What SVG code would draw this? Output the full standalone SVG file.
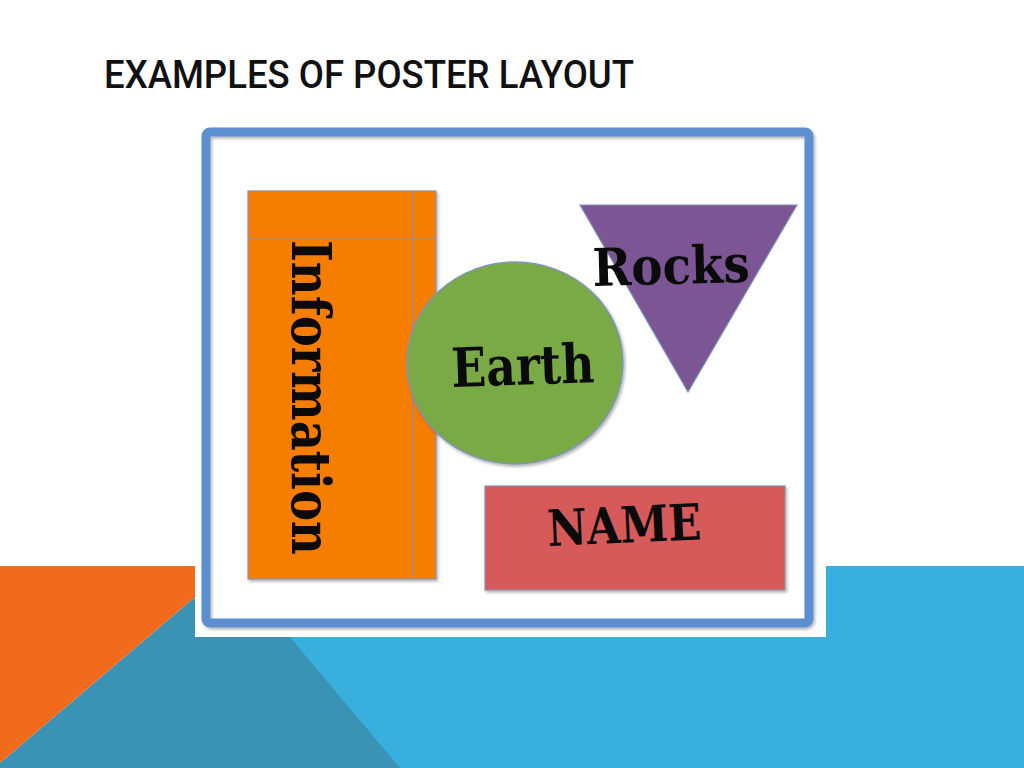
<svg xmlns="http://www.w3.org/2000/svg" width="1024" height="768" viewBox="0 0 1024 768">
  <defs>
    <style>
      .title { font-family: Roboto, "Liberation Sans", Arial, sans-serif; font-weight: 500; font-size: 38px; fill: #111; }
      .lbl { font-family: "DejaVu Serif", "Liberation Serif", serif; font-weight: bold; fill: #0a0a0a; }
      .edge { stroke: #8a8fb0; stroke-width: 1.2; }
    </style>
    <filter id="sh" x="-5%" y="-5%" width="110%" height="110%">
      <feDropShadow dx="1.5" dy="2" stdDeviation="1.5" flood-color="#000" flood-opacity="0.3"/>
    </filter>
  </defs>

  <!-- slide background -->
  <rect x="0" y="0" width="1024" height="768" fill="#ffffff"/>
  <g id="background">
    <rect x="195" y="566" width="829" height="202" fill="#38afdc"/>
    <polygon points="0,763 195,597 195,566 230,566 400,768 0,768" fill="#3a93b5"/>
    <polygon points="0,566 195,566 195,597 0,763" fill="#f26a1b"/>
    <rect x="195" y="118" width="631" height="519" fill="#ffffff"/>
  </g>

  <g id="title">
    <text class="title" x="104" y="88" textLength="530" lengthAdjust="spacingAndGlyphs">EXAMPLES OF POSTER LAYOUT</text>
  </g>

  <g id="frame">
    <rect x="206" y="132" width="603" height="491" rx="4" fill="none" stroke="#5b8ed0" stroke-width="9" filter="url(#sh)"/>
  </g>

  <g id="information">
    <rect x="248" y="191" width="188" height="388" fill="#f57e00" class="edge" filter="url(#sh)"/>
    <line x1="248" y1="239" x2="436" y2="239" class="edge"/>
    <line x1="413" y1="191" x2="413" y2="579" class="edge"/>
    <text class="lbl" font-size="55" transform="translate(292,240) rotate(90)" textLength="315" lengthAdjust="spacingAndGlyphs">Information</text>
  </g>

  <g id="earth">
    <ellipse cx="515" cy="363" rx="108" ry="101" fill="#7aaa45" stroke="#7f96b8" stroke-width="1.5" filter="url(#sh)"/>
    <text class="lbl" font-size="54" transform="translate(452,387) rotate(-2)" textLength="143" lengthAdjust="spacingAndGlyphs">Earth</text>
  </g>

  <g id="rocks">
    <polygon points="580,205 797,205 688,392" fill="#7b5594" stroke="#7f96b8" stroke-width="1.2"/>
    <text class="lbl" font-size="52" transform="translate(593,286) rotate(-1.5)" textLength="157" lengthAdjust="spacingAndGlyphs">Rocks</text>
  </g>

  <g id="name">
    <rect x="485" y="486" width="300" height="104" fill="#d75a5a" class="edge" filter="url(#sh)"/>
    <text class="lbl" font-size="50" transform="translate(548,546) rotate(-2.5)" textLength="154" lengthAdjust="spacingAndGlyphs">NAME</text>
  </g>

  <g id="connectors"/>
</svg>
